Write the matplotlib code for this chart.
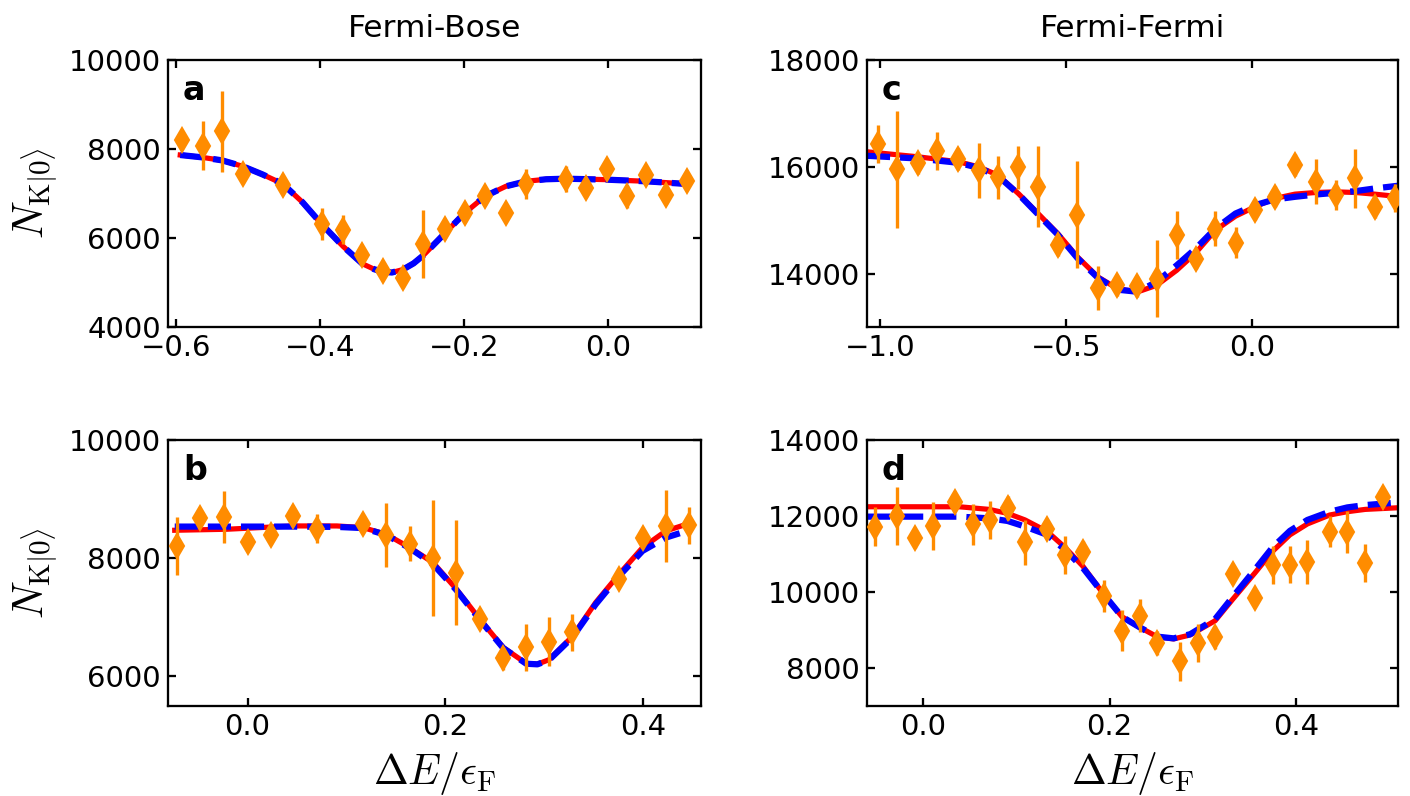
import numpy as np
import matplotlib.pyplot as plt

plt.rcParams['mathtext.fontset'] = 'cm'

# ---- data ----
# panel a (Fermi-Bose, top)
xa = [-0.591, -0.563, -0.536, -0.507, -0.452, -0.397, -0.368, -0.341, -0.313, -0.285, -0.257, -0.227,
      -0.199, -0.171, -0.142, -0.114, -0.059, -0.030, -0.002, 0.026, 0.053, 0.081, 0.109]
ya = [8210, 8075, 8397, 7438, 7199, 6315, 6187, 5626, 5251, 5101, 5865, 6202,
      6562, 6951, 6562, 7221, 7326, 7124, 7558, 6936, 7423, 6974, 7274]
ea = [200, 550, 915, 200, 150, 370, 325, 200, 150, 200, 760, 200,
      200, 200, 150, 340, 290, 200, 200, 260, 200, 200, 200]
fit_xa = [-0.594, -0.565, -0.536, -0.507, -0.48, -0.452, -0.424, -0.397, -0.368, -0.341, -0.325, -0.313,
          -0.300, -0.285, -0.27, -0.257, -0.236, -0.227, -0.199, -0.171, -0.142, -0.114, -0.086, -0.059,
          -0.002, 0.053, 0.109]
fit_ya = [7865, 7815, 7745, 7610, 7430, 7220, 6800, 6300, 5813, 5420, 5300, 5240,
          5225, 5290, 5430, 5603, 5950, 6100, 6562, 6936, 7161, 7274, 7320, 7333,
          7311, 7274, 7214]

# panel b (Fermi-Bose, bottom)
xb = [-0.0713, -0.0477, -0.024, 0.000, 0.0233, 0.0462, 0.0699, 0.1166, 0.140, 0.164, 0.1875, 0.2112,
      0.2348, 0.2585, 0.2818, 0.3047, 0.3284, 0.3757, 0.3994, 0.423, 0.446]
yb = [8208, 8687, 8699, 8276, 8394, 8716, 8501, 8575, 8394, 8248, 8000, 7758,
      6969, 6304, 6490, 6586, 6744, 7656, 8349, 8546, 8558]
eb = [490, 150, 440, 150, 150, 150, 250, 150, 545, 295, 980, 890,
      150, 200, 400, 415, 310, 150, 150, 605, 310]
fit_xb_red = [-0.0737, -0.0213, 0.0462, 0.0902, 0.1166, 0.140, 0.164, 0.1875, 0.2112, 0.2348, 0.2585,
              0.2818, 0.293, 0.3047, 0.3284, 0.352, 0.3757, 0.3994, 0.423, 0.446]
fit_yb_red = [8473, 8490, 8546, 8546, 8518, 8406, 8180, 7927, 7476, 6969, 6490,
              6220, 6208, 6282, 6676, 7251, 7730, 8180, 8462, 8586]
fit_xb_blue = [-0.0737, -0.0213, 0.0462, 0.0902, 0.1166, 0.140, 0.164, 0.1875, 0.2112, 0.2348, 0.2585,
               0.2818, 0.293, 0.3047, 0.3284, 0.352, 0.3757, 0.3994, 0.423, 0.437]
fit_yb_blue = [8535, 8535, 8535, 8530, 8510, 8395, 8170, 7900, 7460, 6960, 6480,
               6215, 6205, 6275, 6660, 7220, 7700, 8124, 8349, 8423]

# panel c (Fermi-Fermi, top)
xc = [-1.006, -0.954, -0.900, -0.847, -0.790, -0.736, -0.684, -0.629, -0.576, -0.523, -0.470, -0.415,
      -0.363, -0.311, -0.257, -0.203, -0.152, -0.099, -0.045, 0.007, 0.060, 0.115, 0.171, 0.224,
      0.277, 0.329, 0.383]
yc = [16425, 15950, 16063, 16294, 16144, 15938, 15800, 15988, 15625, 14531, 15106, 13731,
      13781, 13763, 13906, 14719, 14281, 14844, 14575, 15200, 15438, 16031, 15719, 15469,
      15781, 15238, 15419]
ec = [360, 1100, 200, 350, 200, 515, 400, 410, 760, 200, 1000, 410,
      200, 200, 720, 450, 200, 330, 290, 200, 200, 200, 420, 280,
      560, 200, 260]
fit_xc = [-1.036, -0.900, -0.790, -0.736, -0.684, -0.629, -0.576, -0.523, -0.470, -0.415, -0.363,
          -0.309, -0.257, -0.203, -0.152, -0.099, -0.045, 0.007, 0.060, 0.115, 0.171, 0.224, 0.277,
          0.329, 0.383, 0.392]
fit_yc_red = [16281, 16188, 16094, 16000, 15844, 15500, 15125, 14750, 14313, 13938, 13719,
              13656, 13781, 14063, 14388, 14813, 15075, 15250, 15406, 15488, 15519, 15531, 15519,
              15488, 15450, 15445]
fit_yc_blue = [16206, 16156, 16075, 15980, 15830, 15490, 15110, 14730, 14290, 13920, 13700,
               13660, 13844, 14156, 14469, 14844, 15125, 15281, 15388, 15438, 15481, 15513, 15544,
               15594, 15638, 15645]

# panel d (Fermi-Fermi, bottom)
xd = [-0.0515, -0.0273, -0.0081, 0.0107, 0.0345, 0.0533, 0.0718, 0.0907, 0.1095, 0.1333, 0.1522,
      0.1714, 0.1945, 0.2133, 0.2322, 0.2507, 0.2749, 0.2941, 0.3129, 0.3318, 0.3556, 0.3744,
      0.393, 0.4117, 0.4356, 0.4544, 0.4736, 0.4925]
yd = [11722, 12000, 11417, 11739, 12357, 11783, 11896, 12217, 11304, 11652, 10983,
      11052, 9896, 8983, 9374, 8661, 8174, 8661, 8809, 10478, 9852, 10722,
      10722, 10783, 11591, 11574, 10765, 12504]
ed = [505, 760, 250, 630, 200, 545, 490, 315, 600, 200, 500,
      290, 410, 540, 435, 310, 505, 490, 300, 200, 200, 500,
      480, 575, 410, 545, 490, 200]
fit_xd = [-0.0597, 0.0391, 0.0711, 0.0907, 0.1095, 0.1333, 0.1522, 0.1714, 0.1945, 0.2133, 0.2322,
          0.2507, 0.2685, 0.2863, 0.3129, 0.3318, 0.3556, 0.3744, 0.393, 0.4117, 0.4356, 0.4544,
          0.4736, 0.5087]
fit_yd_red = [12243, 12243, 12174, 12070, 11896, 11591, 11174, 10678, 9913, 9348, 9070,
              8826, 8765, 8870, 9243, 9809, 10504, 11070, 11504, 11791, 12026, 12113,
              12174, 12217]
fit_yd_blue = [11983, 11983, 11939, 11870, 11722, 11504, 11113, 10635, 9913, 9348, 9070,
               8826, 8780, 8890, 9287, 9870, 10591, 11174, 11609, 11896, 12113, 12226,
               12287, 12357]

W, H = 1410, 796
fig = plt.figure(figsize=(W / 150, H / 150), dpi=150)


def make_ax(l, r, t, b):
    return fig.add_axes([l / W, 1 - b / H, (r - l) / W, (b - t) / H])


ax_a = make_ax(168, 701, 60, 327)
ax_b = make_ax(168, 701, 440, 706)
ax_c = make_ax(867, 1398, 60, 327)
ax_d = make_ax(867, 1398, 440, 706)

panels = [
    (ax_a, 'a', xa, ya, ea, fit_xa, fit_ya, fit_xa, fit_ya, (-0.611, 0.129), (4000, 10000),
     [-0.6, -0.4, -0.2, 0.0], [4000, 6000, 8000, 10000]),
    (ax_b, 'b', xb, yb, eb, fit_xb_red, fit_yb_red, fit_xb_blue, fit_yb_blue, (-0.0805, 0.4585), (5500, 10000),
     [0.0, 0.2, 0.4], [6000, 8000, 10000]),
    (ax_c, 'c', xc, yc, ec, fit_xc, fit_yc_red, fit_xc, fit_yc_blue, (-1.036, 0.392), (13000, 18000),
     [-1.0, -0.5, 0.0], [14000, 16000, 18000]),
    (ax_d, 'd', xd, yd, ed, fit_xd, fit_yd_red, fit_xd, fit_yd_blue, (-0.0597, 0.5087), (7000, 14000),
     [0.0, 0.2, 0.4], [8000, 10000, 12000, 14000]),
]

for ax, lab, x, y, e, fxr, fyr, fxb, fyb, xl, yl, xt, yt in panels:
    ax.plot(fxr, fyr, color='red', lw=2.5, zorder=2)
    ax.plot(fxb, fyb, color='blue', lw=3, ls='--', zorder=2.5)
    ax.errorbar(x, y, yerr=e, fmt='d', color='darkorange', ms=8, mew=1, elinewidth=1.6,
                capsize=0, zorder=3)
    ax.set_xlim(*xl)
    ax.set_ylim(*yl)
    ax.set_xticks(xt)
    ax.set_yticks(yt)
    ax.tick_params(direction='in', top=True, right=True, labelsize=14, length=4, width=1.1)
    for s in ax.spines.values():
        s.set_linewidth(1.1)
    ax.text(0.028, 0.85, lab, transform=ax.transAxes, fontsize=16, fontweight='bold')

ax_a.set_title('Fermi-Bose', fontsize=15, pad=11)
ax_c.set_title('Fermi-Fermi', fontsize=15, pad=11)
for ax in (ax_a, ax_b):
    ax.set_ylabel(r'$N_{\mathrm{K}|0\rangle}$', fontsize=20)
for ax in (ax_b, ax_d):
    ax.set_xlabel(r'$\Delta E/\epsilon_{\mathrm{F}}$', fontsize=20)

fig.savefig('out.png', dpi=150)
